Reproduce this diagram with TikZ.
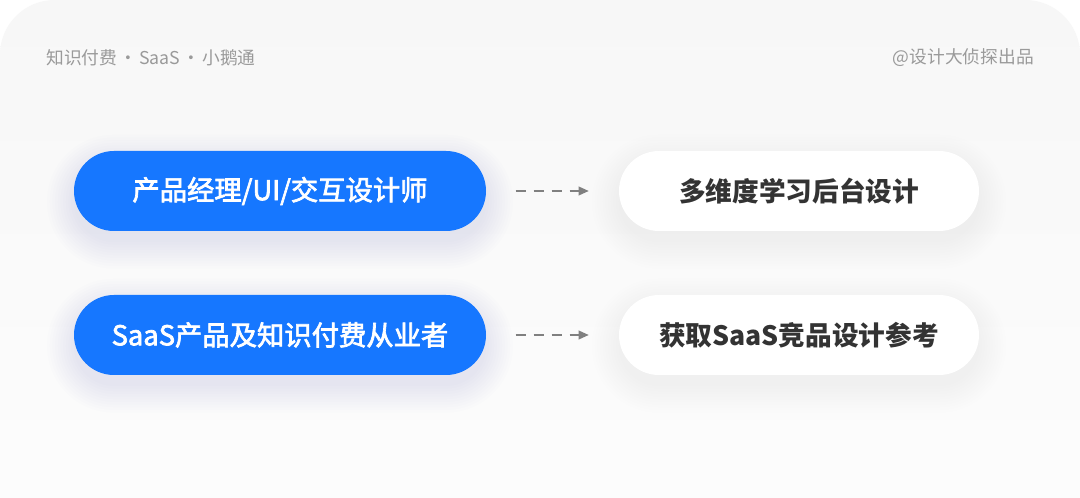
\documentclass[tikz,border=0pt]{standalone}
\usepackage{fontspec}
\newfontfamily\cjk{Noto Sans CJK SC}
\newfontfamily\cjkmed{Noto Sans CJK SC}[FakeBold=2.5]
\usetikzlibrary{arrows.meta}
\definecolor{pillblue}{HTML}{1677FF}
\definecolor{bgtop}{HTML}{F7F7F7}
\definecolor{bgbot}{HTML}{FDFDFD}
\definecolor{headgray}{HTML}{9A9A9A}
\definecolor{darktext}{HTML}{333333}
\definecolor{arrowgray}{HTML}{808080}
\definecolor{blueshadow}{RGB}{120,145,185}
\definecolor{grayshadow}{RGB}{140,140,140}
\pgfdeclarelayer{back}
\pgfdeclarelayer{shadow}
\pgfsetlayers{back,shadow,main}
\newcommand\pillshadow[3]{%
  \foreach \rr in {0,2,...,20}{%
    \fill[#2, opacity=#3, rounded corners=30pt+\rr pt]
      ([shift={(-\rr pt,\rr pt-8pt)}]#1.north west) rectangle
      ([shift={(\rr pt,-\rr pt-8pt)}]#1.south east);
  }}
\tikzset{
  pillbase/.style={rectangle, rounded corners=30pt, minimum height=60pt,
    inner sep=0pt},
  bluepill/.style={pillbase, fill=pillblue, text=white, minimum width=309pt,
    font=\cjkmed\fontsize{20.5pt}{24pt}\selectfont},
  whitepill/.style={pillbase, fill=white, text=darktext, minimum width=270pt,
    font=\cjk\bfseries\fontsize{20pt}{24pt}\selectfont},
  headtext/.style={inner sep=0pt, text=headgray, font=\cjk\fontsize{13.3pt}{16pt}\selectfont},
  flow/.style={arrowgray, line width=1.1pt, dash pattern=on 7.5pt off 6pt,
    -{Triangle[length=7.5pt,width=6.5pt]}, shorten <=22pt, shorten >=22.5pt}
}
\begin{document}
\begin{tikzpicture}[x=0.75pt,y=-0.75pt]
\useasboundingbox (0,0) rectangle (1080,498);
\begin{pgfonlayer}{back}
  \fill[white] (0,0) rectangle (1080,498);
  \begin{scope}
    \clip (0,0) rectangle (1080,498);
    \shade[top color=bgtop, bottom color=bgbot, rounded corners=41pt]
      (0,0) rectangle (1080,560);
  \end{scope}
\end{pgfonlayer}

\node[headtext, anchor=west] (hl) at (46,58) {知识付费\hspace{0.12em}·\hspace{0.12em}SaaS\hspace{0.12em}·\hspace{0.12em}小鹅通};
\node[headtext, anchor=east] (hr) at (1034,58) {@设计大侦探出品};

\node[bluepill] (p1) at (280,191) {产品经理/UI/交互设计师};
\node[bluepill] (p2) at (280,335) {SaaS产品及知识付费从业者};
\node[whitepill] (w1) at (799,191) {多维度学习后台设计};
\node[whitepill] (w2) at (799,335) {获取SaaS竞品设计参考};

\begin{pgfonlayer}{shadow}
  \pillshadow{p1}{blueshadow}{0.010}
  \pillshadow{p2}{blueshadow}{0.010}
  \pillshadow{w1}{grayshadow}{0.007}
  \pillshadow{w2}{grayshadow}{0.007}
\end{pgfonlayer}

\draw[flow] (p1) -- (w1);
\draw[flow] (p2) -- (w2);
\end{tikzpicture}
\end{document}
